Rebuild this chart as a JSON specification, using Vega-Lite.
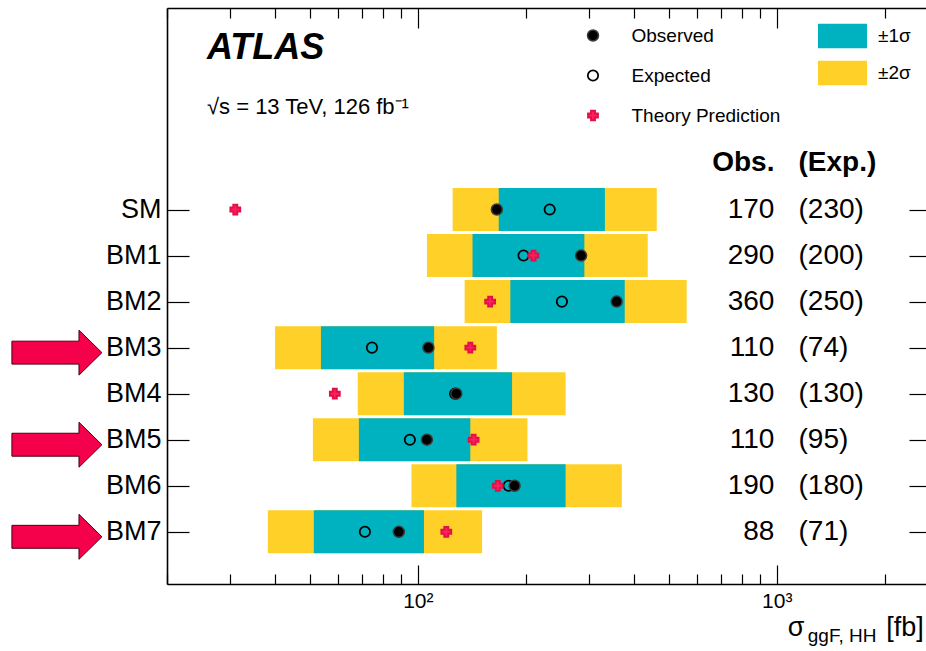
{
  "$schema": "https://vega.github.io/schema/vega-lite/v6.json",
  "width": 764,
  "height": 576,
  "autosize": "none",
  "padding": {"left": 167, "top": 8, "right": 0, "bottom": 67},
  "background": "white",
  "config": {"view": {"stroke": null}, "font": "Liberation Sans"},
  "data": {
    "values": [
      {"model": "SM", "idx": 0, "lo2": 125, "lo1": 168, "hi1": 332, "hi2": 463, "Observed": 166, "Expected": 233, "Theory Prediction": 31, "obsLabel": "170", "expLabel": "(230)", "arrow": false},
      {"model": "BM1", "idx": 1, "lo2": 106, "lo1": 142, "hi1": 291, "hi2": 437, "Observed": 285, "Expected": 197, "Theory Prediction": 210, "obsLabel": "290", "expLabel": "(200)", "arrow": false},
      {"model": "BM2", "idx": 2, "lo2": 135, "lo1": 181, "hi1": 377, "hi2": 561, "Observed": 358, "Expected": 252, "Theory Prediction": 159, "obsLabel": "360", "expLabel": "(250)", "arrow": false},
      {"model": "BM3", "idx": 3, "lo2": 40, "lo1": 53.7, "hi1": 111, "hi2": 166, "Observed": 107, "Expected": 74.5, "Theory Prediction": 140, "obsLabel": "110", "expLabel": "(74)", "arrow": true},
      {"model": "BM4", "idx": 4, "lo2": 68, "lo1": 91.4, "hi1": 183, "hi2": 258, "Observed": 128, "Expected": 127, "Theory Prediction": 58.7, "obsLabel": "130", "expLabel": "(130)", "arrow": false},
      {"model": "BM5", "idx": 5, "lo2": 51, "lo1": 68.5, "hi1": 140, "hi2": 202, "Observed": 106, "Expected": 95, "Theory Prediction": 143, "obsLabel": "110", "expLabel": "(95)", "arrow": true},
      {"model": "BM6", "idx": 6, "lo2": 96, "lo1": 128, "hi1": 258, "hi2": 370, "Observed": 186, "Expected": 179, "Theory Prediction": 167, "obsLabel": "190", "expLabel": "(180)", "arrow": false},
      {"model": "BM7", "idx": 7, "lo2": 38.2, "lo1": 51.3, "hi1": 104, "hi2": 151, "Observed": 88.5, "Expected": 71.2, "Theory Prediction": 120, "obsLabel": "88", "expLabel": "(71)", "arrow": true}
    ]
  },
  "resolve": {"axis": {"x": "independent", "y": "independent"}},
  "layer": [
    {
      "mark": {"type": "bar", "orient": "horizontal", "height": 43},
      "encoding": {
        "x": {"field": "lo2", "type": "quantitative",
          "scale": {"type": "log", "domain": [20, 2690], "nice": false},
          "axis": {"orient": "bottom", "values": [20,30,40,50,60,70,80,90,100,200,300,400,500,600,700,800,900,1000,2000],
            "labelExpr": "datum.value == 100 ? '10²' : datum.value == 1000 ? '10³' : ''",
            "tickSize": {"condition": {"test": "datum.value == 100 || datum.value == 1000", "value": -19}, "value": -10},
            "labelPadding": 25, "labelFontSize": 21, "labelFont": "Liberation Sans", "labelColor": "black",
            "tickColor": "black", "tickWidth": 1.2, "domainColor": "black", "domainWidth": 1.6,
            "grid": false, "title": null, "labelFlush": false, "labelOverlap": false}},
        "x2": {"field": "hi2"},
        "y": {"field": "idx", "type": "quantitative",
          "scale": {"domain": [-4.268, 8.025], "reverse": true, "nice": false, "zero": false},
          "axis": {"orient": "left", "values": [0,1,2,3,4,5,6,7],
            "labelExpr": "['SM','BM1','BM2','BM3','BM4','BM5','BM6','BM7'][datum.value]",
            "tickSize": -22, "labelPadding": 28, "labelFontSize": 27, "labelFont": "Liberation Sans", "labelColor": "black",
            "tickColor": "black", "tickWidth": 1.2, "domainColor": "black", "domainWidth": 1.6,
            "grid": false, "title": null, "labelFlush": false, "labelOverlap": false}},
        "color": {"datum": "±2σ", "type": "nominal",
          "scale": {"domain": ["±1σ", "±2σ"], "range": ["#00B2BF", "#FED028"]},
          "legend": {"orient": "none", "legendX": 651, "legendY": 3.5, "title": null,
            "symbolType": "M-1,-0.5L1,-0.5L1,0.5L-1,0.5Z", "symbolSize": 2401, "symbolStrokeWidth": 0, "symbolOpacity": 1,
            "labelFontSize": 19, "labelFont": "Liberation Sans", "labelColor": "black", "labelOffset": 11,
            "rowPadding": -10, "padding": 0}}
      }
    },
    {
      "mark": {"type": "bar", "orient": "horizontal", "height": 43},
      "encoding": {
        "x": {"field": "lo1", "type": "quantitative",
          "axis": {"orient": "top", "values": [20,30,40,50,60,70,80,90,100,200,300,400,500,600,700,800,900,1000,2000],
            "labels": false,
            "tickSize": {"condition": {"test": "datum.value == 100 || datum.value == 1000", "value": -20}, "value": -10},
            "tickColor": "black", "tickWidth": 1.2, "domainColor": "black", "domainWidth": 1.6,
            "grid": false, "title": null}},
        "x2": {"field": "hi1"},
        "y": {"field": "idx", "type": "quantitative",
          "axis": {"orient": "right", "values": [0,1,2,3,4,5,6,7], "labels": false,
            "tickSize": -22, "tickColor": "black", "tickWidth": 1.2, "domainColor": "black", "domainWidth": 1.6,
            "grid": false, "title": null}},
        "color": {"datum": "±1σ", "type": "nominal"}
      }
    },
    {
      "transform": [{"fold": ["Expected", "Observed", "Theory Prediction"], "as": ["series", "value"]}],
      "mark": {"type": "point", "opacity": 1},
      "encoding": {
        "x": {"field": "value", "type": "quantitative", "axis": null},
        "y": {"field": "idx", "type": "quantitative", "axis": null},
        "shape": {"field": "series", "type": "nominal",
          "scale": {"domain": ["Observed", "Expected", "Theory Prediction"], "range": ["circle", "circle", "cross"]},
          "legend": {"orient": "none", "legendX": 416.5, "legendY": 18, "title": null,
            "labelFontSize": 19, "labelFont": "Liberation Sans", "labelColor": "black", "labelOffset": 29,
            "rowPadding": 20, "padding": 0, "symbolOpacity": 1}},
        "fill": {"field": "series", "type": "nominal",
          "scale": {"domain": ["Observed", "Expected", "Theory Prediction"], "range": ["#000000", "transparent", "#FF1F5B"]}},
        "stroke": {"field": "series", "type": "nominal",
          "scale": {"domain": ["Observed", "Expected", "Theory Prediction"], "range": ["#3a3a3a", "#000000", "#E0104A"]}},
        "size": {"field": "series", "type": "nominal",
          "scale": {"domain": ["Observed", "Expected", "Theory Prediction"], "range": [120, 95, 130]}},
        "strokeWidth": {"field": "series", "type": "nominal",
          "scale": {"domain": ["Observed", "Expected", "Theory Prediction"], "range": [1.5, 2, 1]}}
      }
    },
    {
      "transform": [{"filter": "datum.arrow"}],
      "mark": {"type": "point", "shape": "M-1,-0.255L0.49,-0.255L0.49,-0.5L1,0L0.49,0.5L0.49,0.255L-1,0.255Z",
        "size": 8100, "filled": true, "fill": "#F5004A", "stroke": "#4a0012", "strokeWidth": 1, "opacity": 1, "yOffset": 5},
      "encoding": {
        "x": {"datum": 9.87, "type": "quantitative", "axis": null},
        "y": {"field": "idx", "type": "quantitative", "axis": null}
      }
    },
    {
      "mark": {"type": "text", "align": "right", "baseline": "middle", "fontSize": 28, "font": "Liberation Sans", "color": "black"},
      "encoding": {
        "x": {"datum": 985, "type": "quantitative", "axis": null},
        "y": {"field": "idx", "type": "quantitative", "axis": null},
        "text": {"field": "obsLabel"}
      }
    },
    {
      "mark": {"type": "text", "align": "left", "baseline": "middle", "fontSize": 28, "font": "Liberation Sans", "color": "black"},
      "encoding": {
        "x": {"datum": 1150, "type": "quantitative", "axis": null},
        "y": {"field": "idx", "type": "quantitative", "axis": null},
        "text": {"field": "expLabel"}
      }
    },
    {
      "data": {"values": [{}]},
      "mark": {"type": "text", "text": "Obs.", "align": "right", "baseline": "middle", "fontSize": 28, "fontWeight": "bold", "font": "Liberation Sans", "color": "black"},
      "encoding": {"x": {"datum": 985, "type": "quantitative", "axis": null}, "y": {"datum": -1, "type": "quantitative", "axis": null}}
    },
    {
      "data": {"values": [{}]},
      "mark": {"type": "text", "text": "(Exp.)", "align": "left", "baseline": "middle", "fontSize": 28, "fontWeight": "bold", "font": "Liberation Sans", "color": "black"},
      "encoding": {"x": {"datum": 1150, "type": "quantitative", "axis": null}, "y": {"datum": -1, "type": "quantitative", "axis": null}}
    },
    {
      "data": {"values": [{}]},
      "mark": {"type": "text", "text": "ATLAS", "align": "left", "baseline": "middle", "fontSize": 36, "fontWeight": "bold", "fontStyle": "italic", "font": "Liberation Sans", "color": "black"},
      "encoding": {"x": {"datum": 25.85, "type": "quantitative", "axis": null}, "y": {"datum": -3.5, "type": "quantitative", "axis": null}}
    },
    {
      "data": {"values": [{}]},
      "mark": {"type": "text", "text": "√s = 13 TeV, 126 fb⁻¹", "align": "left", "baseline": "middle", "fontSize": 22, "font": "Liberation Sans", "color": "black"},
      "encoding": {"x": {"datum": 25.85, "type": "quantitative", "axis": null}, "y": {"datum": -2.22, "type": "quantitative", "axis": null}}
    },
    {
      "data": {"values": [{}]},
      "mark": {"type": "text", "text": "σ", "align": "left", "baseline": "alphabetic", "fontSize": 27, "font": "Liberation Sans", "color": "black"},
      "encoding": {"x": {"datum": 1073, "type": "quantitative", "axis": null}, "y": {"datum": 9.262, "type": "quantitative", "axis": null}}
    },
    {
      "data": {"values": [{}]},
      "mark": {"type": "text", "text": "ggF, HH", "align": "left", "baseline": "alphabetic", "fontSize": 19, "font": "Liberation Sans", "color": "black"},
      "encoding": {"x": {"datum": 1220, "type": "quantitative", "axis": null}, "y": {"datum": 9.39, "type": "quantitative", "axis": null}}
    },
    {
      "data": {"values": [{}]},
      "mark": {"type": "text", "text": "[fb]", "align": "right", "baseline": "alphabetic", "fontSize": 27, "font": "Liberation Sans", "color": "black"},
      "encoding": {"x": {"datum": 2568, "type": "quantitative", "axis": null}, "y": {"datum": 9.262, "type": "quantitative", "axis": null}}
    }
  ]
}
